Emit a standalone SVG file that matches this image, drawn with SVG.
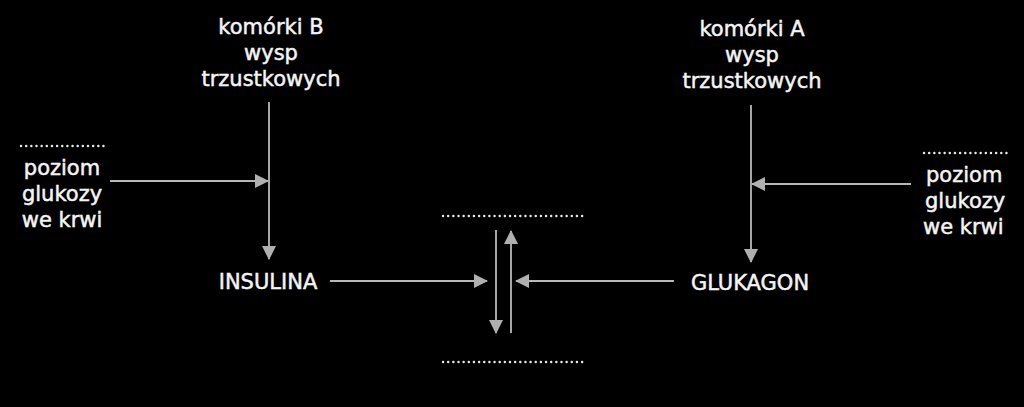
<svg xmlns="http://www.w3.org/2000/svg" width="1024" height="407" viewBox="0 0 1024 407">
<defs>
<style>
.t{font-family:"DejaVu Sans","Liberation Sans",sans-serif;font-size:21px;fill:#f4f4f4;stroke:#f4f4f4;stroke-width:0.5}
.c{stroke:#b8b8b8;stroke-width:1.8;fill:none}
.d{stroke:#e8e8e8;stroke-width:2.4;stroke-dasharray:0.1 5.05;stroke-linecap:round;fill:none}
</style>
<marker id="ah" viewBox="0 0 14 14" refX="13" refY="7" markerWidth="14" markerHeight="14" markerUnits="userSpaceOnUse" orient="auto">
<path d="M0,0 L14,7 L0,14 Z" fill="#b0b0b0"/>
</marker>
</defs>
<rect width="1024" height="407" fill="#000"/>
<g id="cellsB"><text class="t" text-anchor="middle" x="271" y="34">komórki B</text><text class="t" text-anchor="middle" x="271" y="60">wysp</text><text class="t" text-anchor="middle" x="271" y="86">trzustkowych</text></g>
<g id="cellsA"><text class="t" text-anchor="middle" x="752" y="36">komórki A</text><text class="t" text-anchor="middle" x="752" y="62">wysp</text><text class="t" text-anchor="middle" x="752" y="88">trzustkowych</text></g>
<g id="glucoseL"><path class="d" d="M21,146 H107"/><text class="t" text-anchor="middle" x="62" y="175">poziom</text><text class="t" text-anchor="middle" x="62" y="201">glukozy</text><text class="t" text-anchor="middle" x="62" y="227">we krwi</text></g>
<g id="glucoseR"><path class="d" d="M924,153 H1008"/><text class="t" x="926" y="182">poziom</text><text class="t" x="925" y="208">glukozy</text><text class="t" x="923" y="234">we krwi</text></g>
<g id="insulina"><text class="t" text-anchor="middle" x="268" y="289">INSULINA</text></g>
<g id="glukagon"><text class="t" text-anchor="middle" x="750" y="290">GLUKAGON</text></g>
<g id="levelTop"><path class="d" d="M443,216 H587"/></g>
<g id="levelBottom"><path class="d" d="M443,362 H587"/></g>
<g id="connectors">
<path class="c" d="M269,102 V259" marker-end="url(#ah)"/>
<path class="c" d="M110,181 H268" marker-end="url(#ah)"/>
<path class="c" d="M751,105 V262" marker-end="url(#ah)"/>
<path class="c" d="M911,184 H752" marker-end="url(#ah)"/>
<path class="c" d="M330,281 H487" marker-end="url(#ah)"/>
<path class="c" d="M674,281 H516" marker-end="url(#ah)"/>
<path class="c" d="M496,230 V333" marker-end="url(#ah)"/>
<path class="c" d="M511,333 V231" marker-end="url(#ah)"/>
</g>
</svg>
